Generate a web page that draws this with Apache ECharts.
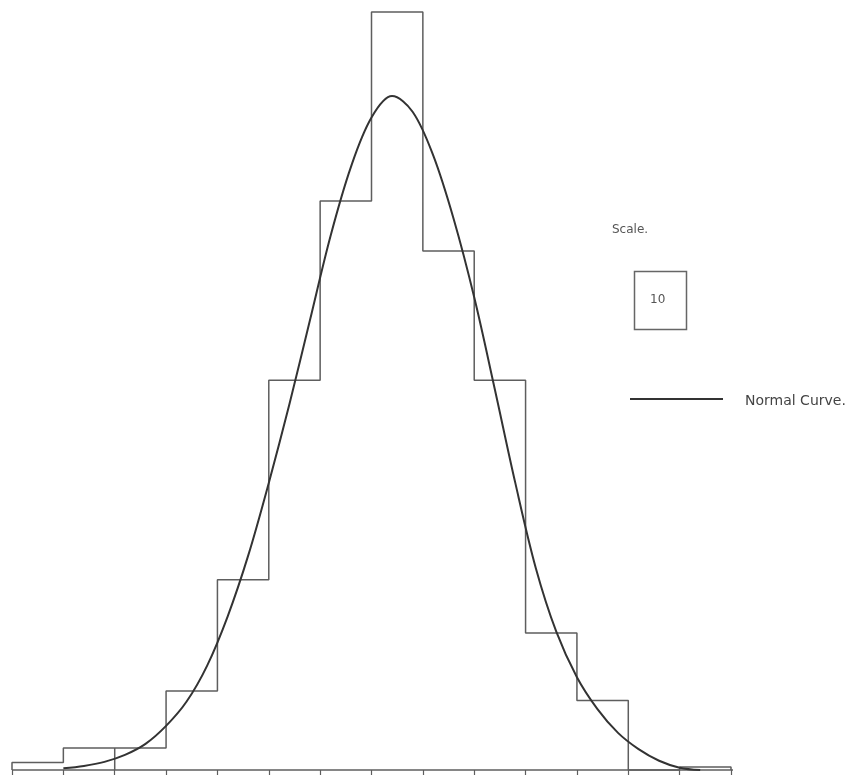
<!DOCTYPE html>
<html>
<head>
<meta charset="utf-8">
<script src="https://cdn.jsdelivr.net/npm/echarts@6/dist/echarts.min.js"></script>
<style>
  html, body { margin: 0; padding: 0; background: #fff; }
  #chart { width: 866px; height: 781px; }
</style>
</head>
<body>
<div id="chart"></div>
<script>
// Class frequencies: 14 equal-width classes, class k spans [k, k+1]
const classFreq = [1.3, 3.8, 3.8, 13.6, 32.8, 67.2, 98.1, 130.7, 89.5, 67.2, 23.6, 12.0, 0, 0.5];

// Fitted normal curve ordinates
const curveX = [1.0, 1.4, 1.8, 2.2, 2.6, 3.0, 3.4, 3.8, 4.2, 4.6, 5.0, 5.4, 5.8, 6.2, 6.6, 7.0,
                7.4, 7.8, 8.2, 8.6, 9.0, 9.4, 9.8, 10.2, 10.6, 11.0, 11.4, 11.8, 12.2, 12.6, 13.0, 13.4];
const curveY = [0.3, 0.7, 1.4, 2.6, 4.5, 7.6, 11.8, 18.0, 26.5, 37.0, 49.5, 63.0, 77.5, 92.0, 104.0, 112.5,
                116.2, 113.5, 106.0, 95.0, 81.5, 65.7, 49.5, 34.8, 23.8, 16.0, 10.5, 6.4, 3.6, 1.6, 0.4, 0];

// Class boundaries marked on the base line
const tickPositions = [0, 1, 2, 3, 4, 5, 6, 7, 8, 9, 10, 11, 12, 13, 14];

const scaleLabel = 'Scale.';
const scaleValue = '10';
const curveLabel = 'Normal Curve.';

// Stepped outline of the histogram
const outline = [[0, 0]];
classFreq.forEach((f, i) => {
  outline.push([i, f]);
  outline.push([i + 1, f]);
});
outline.push([classFreq.length, 0]);

// Divider between the two equal classes
const divider = [[2, 0], [2, classFreq[1]]];

const normalCurve = curveX.map((x, i) => [x, curveY[i]]);

const chart = echarts.init(document.getElementById('chart'), null, { renderer: 'canvas' });

const inkHist = '#5e5e5e';
const inkCurve = '#333333';

chart.setOption({
  backgroundColor: '#ffffff',
  animation: false,
  grid: { left: 12, right: 135, top: 4.4, bottom: 11, containLabel: false },
  xAxis: {
    type: 'value',
    min: 0,
    max: 14,
    interval: 1,
    axisLine: { show: false },
    axisTick: {
      show: true, inside: false, length: 5,
      lineStyle: { color: inkHist, width: 1.2 },
      customValues: tickPositions
    },
    axisLabel: { show: false },
    splitLine: { show: false }
  },
  yAxis: {
    type: 'value',
    min: 0,
    max: 132,
    show: false,
    splitLine: { show: false }
  },
  series: [
    {
      name: 'base',
      type: 'line',
      data: [[0, 0], [14.12, 0]],
      clip: false,
      symbol: 'none',
      lineStyle: { color: inkHist, width: 1.5 },
      silent: true
    },
    {
      name: 'histogram',
      type: 'line',
      data: outline,
      symbol: 'none',
      clip: false,
      lineStyle: { color: inkHist, width: 1.5 },
      silent: true
    },
    {
      name: 'divider',
      type: 'line',
      data: divider,
      symbol: 'none',
      lineStyle: { color: inkHist, width: 1.5 },
      silent: true
    },
    {
      name: curveLabel,
      type: 'line',
      data: normalCurve,
      symbol: 'none',
      smooth: 0.35,
      lineStyle: { color: inkCurve, width: 2 },
      silent: true
    }
  ],
  graphic: [
    {
      type: 'text', left: 612, top: 224,
      style: { text: scaleLabel, fontFamily: 'DejaVu Sans', fontSize: 12, fill: '#555', letterSpacing: 0.5 }
    },
    {
      type: 'rect', left: 632, top: 269,
      shape: { width: 52, height: 58 },
      style: { fill: 'none', stroke: '#666', lineWidth: 1.5 }
    },
    {
      type: 'text', left: 650, top: 294,
      style: { text: scaleValue, fontFamily: 'DejaVu Sans', fontSize: 12, fill: '#555' }
    },
    {
      type: 'line',
      shape: { x1: 630, y1: 399, x2: 723, y2: 399 },
      style: { stroke: inkCurve, lineWidth: 1.8 }
    },
    {
      type: 'text', left: 745, top: 394,
      style: { text: curveLabel, fontFamily: 'DejaVu Sans', fontSize: 14, fill: '#444', letterSpacing: 2.4 }
    }
  ]
});
</script>
</body>
</html>
